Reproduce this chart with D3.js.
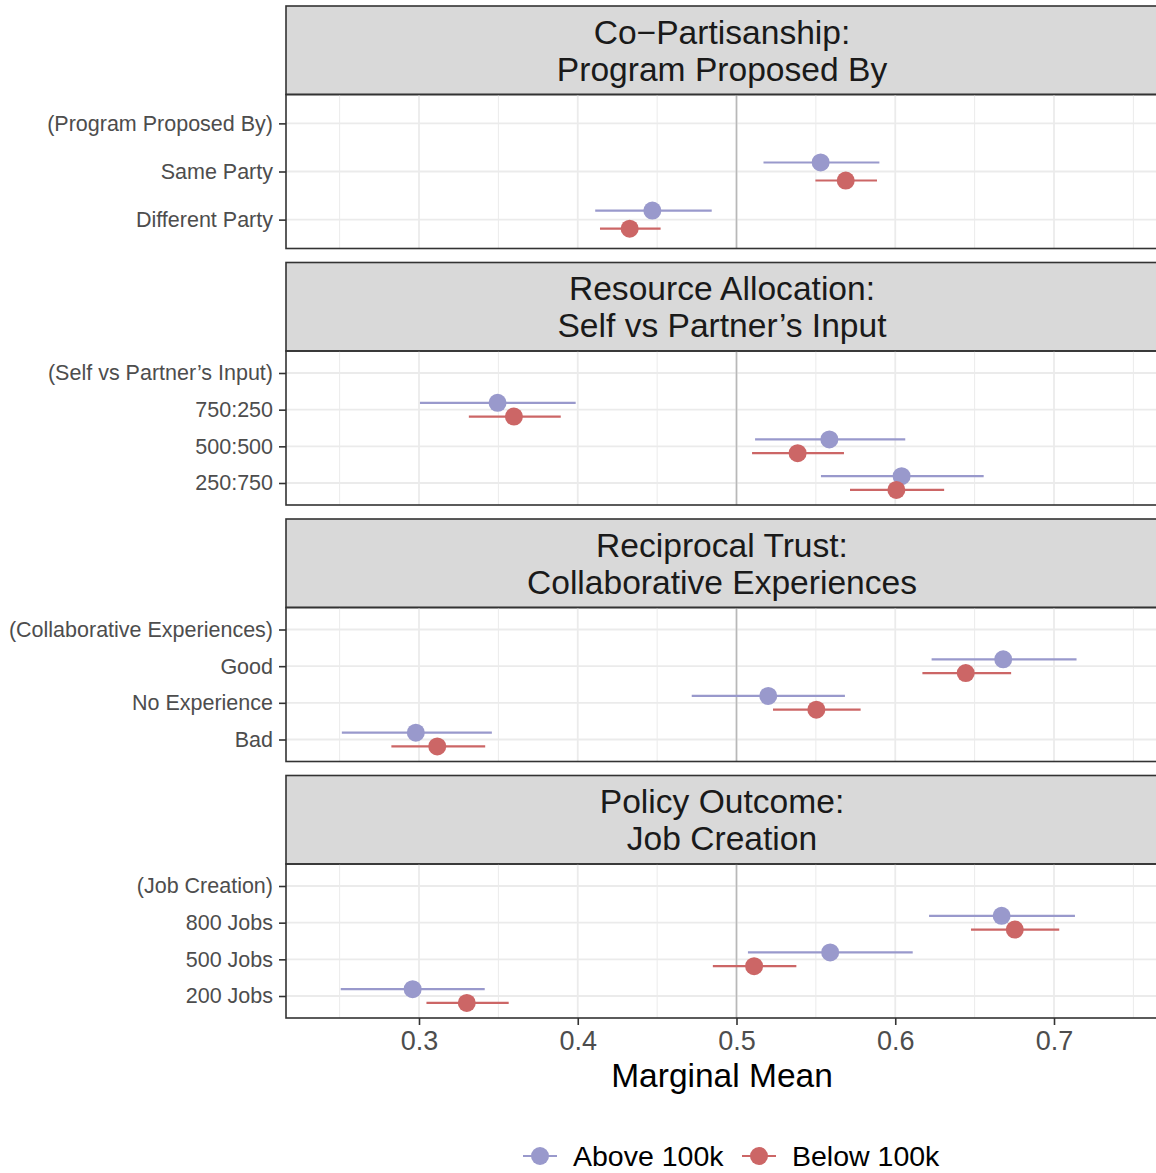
<!DOCTYPE html>
<html>
<head>
<meta charset="utf-8">
<script src="https://cdn.jsdelivr.net/npm/d3@7"></script>
<style>
  body { margin: 0; background: #fff; }
  svg { display: block; font-family: "Liberation Sans", Arial, Helvetica, sans-serif; }
</style>
</head>
<body>
<div id="chart"></div>
<script>
// facet strip titles (two lines each)
var facetTitles = [
    ["Co\u2212Partisanship:", "Program Proposed By"],
    ["Resource Allocation:", "Self vs Partner\u2019s Input"],
    ["Reciprocal Trust:", "Collaborative Experiences"],
    ["Policy Outcome:", "Job Creation"]
];

// attribute levels, top to bottom
var facetLevels = [
    ["(Program Proposed By)", "Same Party", "Different Party"],
    ["(Self vs Partner\u2019s Input)", "750:250", "500:500", "250:750"],
    ["(Collaborative Experiences)", "Good", "No Experience", "Bad"],
    ["(Job Creation)", "800 Jobs", "500 Jobs", "200 Jobs"]
];

var groups = ["Above 100k", "Below 100k"];
var groupColors = ["#9999cc", "#cc6666"];

// marginal means and 95% intervals (null = header row)
var aboveEst   = [[null, 0.553, 0.447], [null, 0.3495, 0.5585, 0.604], [null, 0.668, 0.520, 0.298], [null, 0.667, 0.559, 0.296]];
var aboveLower = [[null, 0.517, 0.411], [null, 0.3006, 0.5117, 0.5532], [null, 0.6229, 0.4718, 0.2514], [null, 0.6213, 0.5072, 0.2507]];
var aboveUpper = [[null, 0.590, 0.4844], [null, 0.3987, 0.6063, 0.6557], [null, 0.7142, 0.5683, 0.3459], [null, 0.7132, 0.611, 0.3414]];

var belowEst   = [[null, 0.5688, 0.4327], [null, 0.3598, 0.5385, 0.6007], [null, 0.6444, 0.5503, 0.3115], [null, 0.6753, 0.5111, 0.3301]];
var belowLower = [[null, 0.5497, 0.414], [null, 0.3314, 0.5098, 0.5715], [null, 0.6171, 0.523, 0.2826], [null, 0.6477, 0.4851, 0.3047]];
var belowUpper = [[null, 0.5885, 0.4522], [null, 0.3893, 0.5677, 0.6308], [null, 0.673, 0.5782, 0.3417], [null, 0.7033, 0.5377, 0.3565]];

var xTicks = [0.3, 0.4, 0.5, 0.6, 0.7];
var xMinor = [0.25, 0.35, 0.45, 0.55, 0.65, 0.75];

var w = 1156;
var h = 1173;

var left = 286, right = 1158;
var top0 = 6, stripH = 88.5, panelH = 154, gap = 14;
var period = stripH + panelH + gap;

var svg = d3.select("#chart")
    .append("svg")
    .attr("width", w)
    .attr("height", h);

var x = d3.scaleLinear()
    .domain([0.3, 0.7])
    .range([419, 1054]);

var dodge = 0.1875;

svg.append("defs").append("clipPath")
    .attr("id", "clip")
    .append("rect")
    .attr("x", left)
    .attr("y", 0)
    .attr("width", right - left)
    .attr("height", h);

var series = [
    { est: aboveEst, lo: aboveLower, hi: aboveUpper, off: -dodge, color: groupColors[0] },
    { est: belowEst, lo: belowLower, hi: belowUpper, off: dodge, color: groupColors[1] }
];

facetTitles.forEach(function (title, f) {
    var sTop = top0 + f * period;
    var pTop = sTop + stripH;
    var pBot = pTop + panelH;
    var levels = facetLevels[f];

    var y = d3.scalePoint()
        .domain(d3.range(levels.length))
        .range([pTop, pBot])
        .padding(0.6);
    var step = y.step();

    // strip
    svg.append("rect")
        .attr("x", left)
        .attr("y", sTop)
        .attr("width", right - left)
        .attr("height", stripH)
        .attr("fill", "#d9d9d9")
        .attr("stroke", "#333333")
        .attr("stroke-width", 1.6);

    svg.append("g").selectAll("text")
        .data(title)
        .enter()
        .append("text")
        .attr("x", (left + right) / 2)
        .attr("y", function (d, i) { return sTop + 37.5 + i * 37; })
        .attr("text-anchor", "middle")
        .attr("font-size", "33.6px")
        .attr("fill", "#1a1a1a")
        .text(function (d) { return d; });

    var g = svg.append("g").attr("clip-path", "url(#clip)");

    // minor grid
    g.selectAll(".minor")
        .data(xMinor)
        .enter()
        .append("line")
        .attr("x1", function (d) { return x(d); })
        .attr("x2", function (d) { return x(d); })
        .attr("y1", pTop)
        .attr("y2", pBot)
        .attr("stroke", "#ebebeb")
        .attr("stroke-width", 1);

    // major grid
    g.selectAll(".majorx")
        .data(xTicks)
        .enter()
        .append("line")
        .attr("x1", function (d) { return x(d); })
        .attr("x2", function (d) { return x(d); })
        .attr("y1", pTop)
        .attr("y2", pBot)
        .attr("stroke", "#ebebeb")
        .attr("stroke-width", 1.8);

    g.selectAll(".majory")
        .data(levels)
        .enter()
        .append("line")
        .attr("x1", left)
        .attr("x2", right)
        .attr("y1", function (d, i) { return y(i); })
        .attr("y2", function (d, i) { return y(i); })
        .attr("stroke", "#ebebeb")
        .attr("stroke-width", 1.8);

    // reference line
    g.append("line")
        .attr("x1", x(0.5))
        .attr("x2", x(0.5))
        .attr("y1", pTop)
        .attr("y2", pBot)
        .attr("stroke", "#b8b8b8")
        .attr("stroke-width", 1.6);

    series.forEach(function (s) {
        var rows = d3.range(levels.length).filter(function (i) { return s.est[f][i] != null; });

        g.selectAll(null)
            .data(rows)
            .enter()
            .append("line")
            .attr("x1", function (i) { return x(s.lo[f][i]); })
            .attr("x2", function (i) { return x(s.hi[f][i]); })
            .attr("y1", function (i) { return y(i) + s.off * step; })
            .attr("y2", function (i) { return y(i) + s.off * step; })
            .attr("stroke", s.color)
            .attr("stroke-width", 2.2);

        g.selectAll(null)
            .data(rows)
            .enter()
            .append("circle")
            .attr("cx", function (i) { return x(s.est[f][i]); })
            .attr("cy", function (i) { return y(i) + s.off * step; })
            .attr("r", 9)
            .attr("fill", s.color);
    });

    // panel border
    svg.append("rect")
        .attr("x", left)
        .attr("y", pTop)
        .attr("width", right - left)
        .attr("height", panelH)
        .attr("fill", "none")
        .attr("stroke", "#333333")
        .attr("stroke-width", 1.6);

    // y axis
    var yAxis = d3.axisLeft(y)
        .tickSize(7)
        .tickPadding(6)
        .tickFormat(function (i) { return levels[i]; });

    var ya = svg.append("g")
        .attr("transform", "translate(" + left + ",0)")
        .call(yAxis);
    ya.select(".domain").remove();
    ya.selectAll(".tick line").attr("stroke", "#333333").attr("stroke-width", 1.6);
    ya.selectAll(".tick text")
        .attr("font-size", "21.5px")
        .attr("font-family", "Liberation Sans, Arial, sans-serif")
        .attr("fill", "#4d4d4d");

    // x axis on last panel
    if (f === facetTitles.length - 1) {
        var xa = svg.append("g")
            .attr("transform", "translate(0," + pBot + ")")
            .call(d3.axisBottom(x).tickValues(xTicks).tickSize(7).tickPadding(6).tickFormat(d3.format(".1f")));
        xa.select(".domain").remove();
        xa.selectAll(".tick line").attr("stroke", "#333333").attr("stroke-width", 1.6);
        xa.selectAll(".tick text")
            .attr("font-size", "27px")
            .attr("font-family", "Liberation Sans, Arial, sans-serif")
            .attr("fill", "#4d4d4d");

        svg.append("text")
            .attr("x", (left + right) / 2)
            .attr("y", pBot + 69)
            .attr("text-anchor", "middle")
            .attr("font-size", "33.5px")
            .attr("fill", "#000")
            .text("Marginal Mean");
    }
});

// legend
var legendX = [540, 759];
var legendY = 1156;

var legend = svg.selectAll(".legend")
    .data(groups)
    .enter()
    .append("g")
    .attr("class", "legend")
    .attr("transform", function (d, i) { return "translate(" + legendX[i] + "," + legendY + ")"; });

legend.append("line")
    .attr("x1", -17)
    .attr("x2", 17)
    .attr("stroke", function (d, i) { return groupColors[i]; })
    .attr("stroke-width", 2.2);

legend.append("circle")
    .attr("r", 9)
    .attr("fill", function (d, i) { return groupColors[i]; });

legend.append("text")
    .attr("x", 33)
    .attr("y", 10)
    .attr("font-size", "28.5px")
    .attr("fill", "#000")
    .text(function (d) { return d; });
</script>
</body>
</html>
